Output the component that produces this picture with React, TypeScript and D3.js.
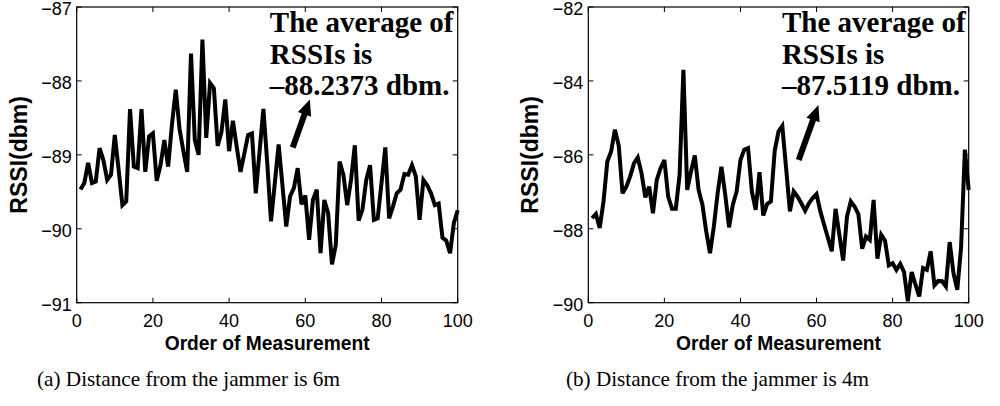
import * as React from "react";
import * as d3 from "d3";

// measurement order 1..100 on the x axis
const order = d3.range(1, 101);

// RSSI readings (dbm), jammer at 6m
const rssi6m = [
  -89.47, -89.38, -89.11, -89.38, -89.36, -88.91, -89.07, -89.34, -89.27, -88.73,
  -89.2, -89.68, -89.63, -88.38, -89.16, -89.18, -88.38, -89.23, -88.75, -88.71,
  -89.35, -89.14, -88.8, -89.16, -88.59, -88.12, -88.65, -88.95, -89.23, -87.63,
  -88.8, -89.0, -87.44, -88.77, -88.03, -88.1, -88.88, -88.69, -88.25, -88.95,
  -88.54, -88.89, -89.23, -88.98, -88.73, -88.71, -89.52, -88.95, -88.38, -89.1,
  -89.9, -89.38, -88.86, -89.41, -89.97, -89.56, -89.45, -89.18, -89.67, -89.55,
  -90.15, -89.61, -89.47, -90.33, -89.61, -89.79, -90.48, -90.22, -89.09, -89.27,
  -89.68, -89.34, -88.87, -89.89, -89.74, -89.34, -89.14, -89.88, -89.86, -89.38,
  -88.9, -89.86, -89.7, -89.52, -89.47, -89.26, -89.27, -89.14, -89.29, -89.88,
  -89.34, -89.41, -89.52, -89.68, -89.66, -90.12, -90.16, -90.33, -89.92, -89.75,
];

// RSSI readings (dbm), jammer at 4m
const rssi4m = [
  -87.71, -87.6, -87.98, -87.26, -86.18, -85.91, -85.32, -85.75, -87.04, -86.86,
  -86.59, -86.23, -86.07, -86.5, -87.15, -86.86, -87.58, -86.68, -86.36, -86.14,
  -87.13, -87.46, -87.46, -86.54, -83.7, -86.95, -86.45, -86.02, -86.95, -87.35,
  -88.07, -88.66, -87.94, -87.04, -86.32, -87.08, -87.96, -87.35, -86.99, -86.14,
  -85.86, -85.82, -86.99, -87.49, -86.47, -87.64, -87.33, -87.26, -85.89, -85.37,
  -85.22, -86.36, -87.53, -86.99, -87.13, -87.31, -87.51, -87.31, -87.17, -87.06,
  -87.53, -87.89, -88.25, -88.61, -87.46, -88.16, -88.86, -87.67, -87.26, -87.4,
  -87.6, -88.54, -88.21, -88.3, -87.22, -88.81, -88.16, -88.32, -88.99, -88.93,
  -89.11, -88.95, -89.17, -89.96, -89.17, -89.51, -89.83, -89.06, -89.11, -88.61,
  -89.53, -89.41, -89.42, -89.56, -88.36, -89.2, -89.65, -88.5, -85.86, -86.95,
];

const xTicks = [0, 20, 40, 60, 80, 100];
const yTicks6m = [-91, -90, -89, -88, -87];
const yTicks4m = [-90, -88, -86, -84, -82];

const note6m = ["The average of", "RSSIs is", "\u201388.2373 dbm."];
const note4m = ["The average of", "RSSIs is", "\u201387.5119 dbm."];

const caption6m = "(a) Distance from the jammer is 6m";
const caption4m = "(b) Distance from the jammer is 4m";

const sans = "'Liberation Sans', Arial, Helvetica, sans-serif";
const serif = "'Liberation Serif', 'Times New Roman', serif";

const Arrow = ({ x1, y1, x2, y2 }) => {
  // shaft from tail to head base, then a filled head at the tip
  const dx = x2 - x1;
  const dy = y2 - y1;
  const len = Math.sqrt(dx * dx + dy * dy);
  const ux = dx / len;
  const uy = dy / len;
  const headLen = 16;
  const headW = 7;
  const bx = x2 - ux * headLen;
  const by = y2 - uy * headLen;
  const pts = [
    [x2, y2],
    [bx - uy * headW, by + ux * headW],
    [bx + uy * headW, by - ux * headW],
  ];
  return (
    <g>
      <line x1={x1} y1={y1} x2={bx + ux * 2} y2={by + uy * 2} stroke="#000" strokeWidth={6} />
      <polygon points={pts.map(p => p.join(",")).join(" ")} fill="#000" />
    </g>
  );
};

const Panel = props => {
  const { values, yTicks, left, right, note, noteAt, arrow, caption, captionX } = props;
  const top = 7;
  const bottom = 302.7;

  const x = d3.scaleLinear().domain([0, 100]).range([left, right]);
  const y = d3
    .scaleLinear()
    .domain([yTicks[0], yTicks[yTicks.length - 1]])
    .range([bottom, top]);

  const line = d3
    .line<number>()
    .x((d, i) => x(order[i]))
    .y(d => y(d));

  const tickLen = 5;
  const fmt = d3.format("d");
  const midX = (left + right) / 2;
  const midY = (top + bottom) / 2;

  return (
    <g>
      <path
        d={line(values)}
        fill="none"
        stroke="#000"
        strokeWidth={4}
        strokeLinejoin="miter"
        strokeMiterlimit={3}
      />

      {/* box */}
      <rect x={left} y={top} width={right - left} height={bottom - top} fill="none" stroke="#000" strokeWidth={1.2} />

      {xTicks.map(t => (
        <g key={"x" + t}>
          <line x1={x(t)} x2={x(t)} y1={bottom} y2={bottom - tickLen} stroke="#000" strokeWidth={1} />
          <line x1={x(t)} x2={x(t)} y1={top} y2={top + tickLen} stroke="#000" strokeWidth={1} />
          <text x={x(t)} y={bottom + 24.5} textAnchor="middle" fontFamily={sans} fontSize={18}>
            {fmt(t)}
          </text>
        </g>
      ))}

      {yTicks.map(t => (
        <g key={"y" + t}>
          <line x1={left} x2={left + tickLen} y1={y(t)} y2={y(t)} stroke="#000" strokeWidth={1} />
          <line x1={right} x2={right - tickLen} y1={y(t)} y2={y(t)} stroke="#000" strokeWidth={1} />
          <text x={left - 5} y={y(t)} dy="0.44em" textAnchor="end" fontFamily={sans} fontSize={18}>
            {"\u2212" + Math.abs(t)}
          </text>
        </g>
      ))}

      <text
        x={midX}
        y={350}
        textAnchor="middle"
        fontFamily={sans}
        fontWeight="bold"
        fontSize={21}
        textLength={205}
        lengthAdjust="spacingAndGlyphs"
      >
        Order of Measurement
      </text>

      <text
        transform={`translate(${left - 50},${midY}) rotate(-90)`}
        textAnchor="middle"
        fontFamily={sans}
        fontWeight="bold"
        fontSize={23}
      >
        RSSI(dbm)
      </text>

      {note.map((s, i) => (
        <text
          key={s}
          x={x(noteAt[0])}
          y={y(noteAt[1]) + i * 31.5}
          fontFamily={serif}
          fontWeight="bold"
          fontSize={29}
        >
          {s}
        </text>
      ))}

      <Arrow x1={x(arrow[0])} y1={y(arrow[1])} x2={x(arrow[2])} y2={y(arrow[3])} />

      <text
        x={captionX}
        y={386}
        fontFamily={serif}
        fontSize={22}
        textLength={303}
        lengthAdjust="spacingAndGlyphs"
      >
        {caption}
      </text>
    </g>
  );
};

const App = () => {
  const width = 1000;
  const height = 406;
  return (
    <svg
      width={width}
      height={height}
      style={{ position: "absolute", left: 0, top: 0, background: "#fff" }}
    >
      <Panel
        values={rssi6m}
        yTicks={yTicks6m}
        left={76.7}
        right={457.7}
        note={note6m}
        noteAt={[50.7, -87.34]}
        arrow={[56.7, -88.9, 61.2, -88.25]}
        caption={caption6m}
        captionX={37}
      />
      <Panel
        values={rssi4m}
        yTicks={yTicks4m}
        left={588.3}
        right={968.7}
        note={note4m}
        noteAt={[50.9, -82.68]}
        arrow={[55.3, -86.14, 60.5, -84.65]}
        caption={caption4m}
        captionX={566}
      />
    </svg>
  );
};

export default App;
